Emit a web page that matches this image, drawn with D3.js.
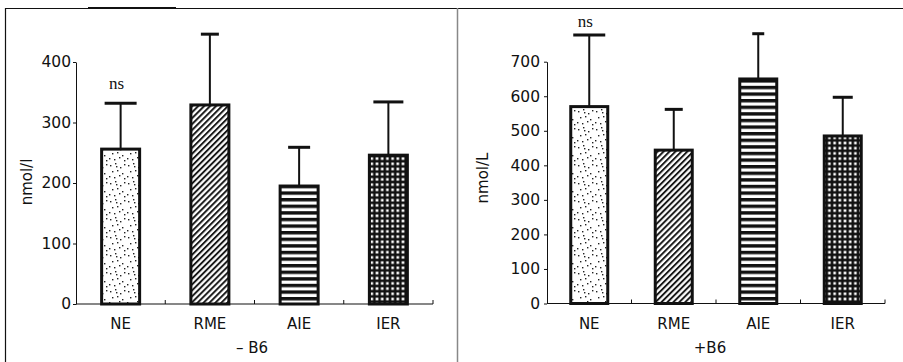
<!doctype html>
<meta charset="utf-8">
<head>
<script src="https://d3js.org/d3.v7.min.js"></script>
<style>
  body { margin: 0; background: #fff; }
  text { font-family: "DejaVu Sans", sans-serif; fill: #111; }
</style>
</head>
<body>
<svg width="903" height="362"></svg>
<script>
    // values
    let categories = ["NE", "RME", "AIE", "IER"];
    let minusMeans = [256, 329, 195, 246];
    let minusSD = [76, 117, 64, 88];
    let plusMeans = [570, 444, 650, 485];
    let plusSD = [207, 118, 131, 112];
    let minusTicks = [0, 100, 200, 300, 400];
    let plusTicks = [0, 100, 200, 300, 400, 500, 600, 700];

    let svg = d3.select("svg");
    let defs = svg.append("defs");

    //
    // fill patterns
    //
    let dots = defs.append("pattern").attr("id", "pat-NE")
        .attr("patternUnits", "userSpaceOnUse").attr("width", 18).attr("height", 18);
    dots.append("rect").attr("width", 18).attr("height", 18).attr("fill", "#fff");
    [[2,3],[7,1],[12,5],[16,2],[4,9],[9,8],[14,11],[1,14],[6,15],[11,13],[16,16],[8,4]]
        .forEach(p => dots.append("rect").attr("x", p[0]).attr("y", p[1])
            .attr("width", 1.4).attr("height", 1.4).attr("fill", "#222"));

    let hatch = defs.append("pattern").attr("id", "pat-RME")
        .attr("patternUnits", "userSpaceOnUse").attr("width", 4.2).attr("height", 4.2)
        .attr("patternTransform", "rotate(45)");
    hatch.append("rect").attr("width", 4.2).attr("height", 4.2).attr("fill", "#fff");
    hatch.append("line").attr("x1", 1).attr("x2", 1).attr("y1", 0).attr("y2", 4.2)
        .attr("stroke", "#111").attr("stroke-width", 1.9);

    let stripes = defs.append("pattern").attr("id", "pat-AIE")
        .attr("patternUnits", "userSpaceOnUse").attr("width", 10).attr("height", 6.6);
    stripes.append("rect").attr("width", 10).attr("height", 6.6).attr("fill", "#fff");
    stripes.append("rect").attr("width", 10).attr("height", 3.4).attr("fill", "#111");

    let grid = defs.append("pattern").attr("id", "pat-IER")
        .attr("patternUnits", "userSpaceOnUse").attr("width", 5.2).attr("height", 5.2);
    grid.append("rect").attr("width", 5.2).attr("height", 5.2).attr("fill", "#111");
    grid.append("rect").attr("x", 1.3).attr("y", 1.3).attr("width", 2.6).attr("height", 2.6)
        .attr("fill", "#fff");

    //
    // frame
    //
    svg.append("path").attr("d", "M5.5 362 V8.5 H903").attr("fill", "none")
        .attr("stroke", "#111").attr("stroke-width", 1.2);
    svg.append("line").attr("x1", 88).attr("x2", 176).attr("y1", 8).attr("y2", 8)
        .attr("stroke", "#111").attr("stroke-width", 1.8);
    svg.append("line").attr("x1", 457.5).attr("x2", 457.5).attr("y1", 8).attr("y2", 362)
        .attr("stroke", "#888").attr("stroke-width", 1.5);

    function panel(cfg) {
        let g = svg.append("g");
        let x = d3.scaleBand().domain(categories).range([cfg.x0, cfg.x1])
            .paddingInner(0).paddingOuter(0);
        let y = d3.scaleLinear().domain([0, cfg.max]).range([cfg.y0, cfg.yTop]);

        // y axis
        let ya = g.append("g").attr("transform", `translate(${cfg.x0},0)`)
            .call(d3.axisLeft(y).tickValues(cfg.ticks).tickSize(3).tickSizeOuter(0).tickPadding(cfg.pad));
        ya.attr("font-family", null).attr("font-size", null);
        ya.select(".domain").attr("stroke", "#111").attr("stroke-width", 1);
        ya.selectAll(".tick line").attr("stroke", "#111");
        ya.selectAll("text").style("font-size", "15.5px").attr("fill", "#111");

        // x axis
        g.append("line").attr("x1", cfg.x0).attr("x2", cfg.x1)
            .attr("y1", cfg.y0).attr("y2", cfg.y0).attr("stroke", "#111").attr("stroke-width", 1.2);
        g.selectAll(".bt").data(categories.slice(1).concat([null])).enter().append("line")
            .attr("x1", d => d ? x(d) : cfg.x1).attr("x2", d => d ? x(d) : cfg.x1)
            .attr("y1", cfg.y0).attr("y2", cfg.y0 - 4).attr("stroke", "#111");

        g.selectAll(".cat").data(categories).enter().append("text")
            .attr("x", d => x(d) + x.bandwidth() / 2).attr("y", cfg.y0 + 25)
            .attr("text-anchor", "middle").style("font-size", "15px").text(d => d);

        g.append("text").attr("x", cfg.titleX).attr("y", cfg.y0 + 49)
            .attr("text-anchor", "middle").style("font-size", "15px").text(cfg.title);

        g.append("text").attr("transform", `translate(${cfg.labX},${cfg.labY}) rotate(-90)`)
            .attr("text-anchor", "middle").style("font-size", "15px").text(cfg.ylab);

        let bw = cfg.barW;
        let data = categories.map((c, i) => ({c: c, m: cfg.means[i], sd: cfg.sd[i]}));

        // error bars (upper only)
        g.selectAll(".err").data(data).enter().append("line")
            .attr("x1", d => x(d.c) + x.bandwidth() / 2).attr("x2", d => x(d.c) + x.bandwidth() / 2)
            .attr("y1", d => y(d.m)).attr("y2", d => y(d.m + d.sd))
            .attr("stroke", "#111").attr("stroke-width", 2);
        g.selectAll(".cap").data(data).enter().append("line")
            .attr("x1", (d, i) => x(d.c) + x.bandwidth() / 2 - cfg.capW[i] / 2)
            .attr("x2", (d, i) => x(d.c) + x.bandwidth() / 2 + cfg.capW[i] / 2)
            .attr("y1", d => y(d.m + d.sd)).attr("y2", d => y(d.m + d.sd))
            .attr("stroke", "#111").attr("stroke-width", 3);

        g.selectAll(".bar").data(data).enter().append("rect")
            .attr("x", d => x(d.c) + (x.bandwidth() - bw) / 2)
            .attr("width", bw)
            .attr("y", d => y(d.m))
            .attr("height", d => cfg.y0 - y(d.m))
            .attr("fill", d => `url(#pat-${d.c})`)
            .attr("stroke", "#111").attr("stroke-width", 3);

        // significance mark above NE
        let ne = data[0];
        g.append("text").attr("x", x("NE") + x.bandwidth() / 2 - 4)
            .attr("y", y(ne.m + ne.sd) - cfg.nsGap)
            .attr("text-anchor", "middle").style("font-size", "17px")
            .style("font-family", "'Liberation Serif', serif").text("ns");
    }

    panel({ x0: 76, x1: 433, y0: 304, yTop: 62, max: 400, ticks: minusTicks,
            means: minusMeans, sd: minusSD, barW: 38, capW: [32, 18, 22, 30], pad: 2,
            title: "\u2013 B6", titleX: 252, ylab: "nmol/l", labX: 32, labY: 182, nsGap: 14 });
    panel({ x0: 547, x1: 885, y0: 303.5, yTop: 61.7, max: 700, ticks: plusTicks,
            means: plusMeans, sd: plusSD, barW: 37, capW: [32, 18, 12, 20], pad: 4,
            title: "+B6", titleX: 710, ylab: "nmol/L", labX: 488, labY: 178, nsGap: 8 });
</script>
</body>
